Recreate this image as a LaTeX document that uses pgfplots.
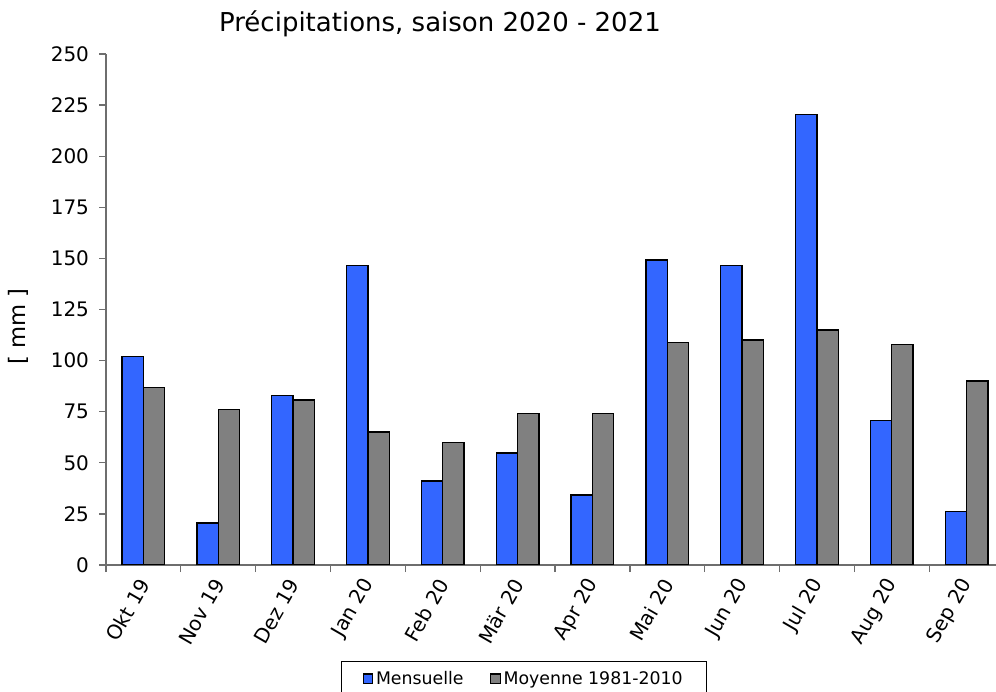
\documentclass[border=0pt]{standalone}
\usepackage{pgfplots}
\pgfplotsset{compat=1.18}
\usepackage{fontspec}
\setmainfont{DejaVu Sans}
\definecolor{mblue}{HTML}{3366FF}
\definecolor{mgray}{HTML}{808080}
\definecolor{axgray}{HTML}{6E6E6E}

\begin{document}
\begin{tikzpicture}
\useasboundingbox (-79.5pt,-95.25pt) rectangle (667.5pt,423.75pt);
\clip (-79.5pt,-95.25pt) rectangle (667.5pt,423.75pt);
\begin{axis}[
  at={(0,0)}, anchor=south west,
  scale only axis, width=673.5pt, height=383.25pt,
  ybar=0pt, bar width=16pt,
  xmin=-0.5, xmax=11.5, ymin=0, ymax=250,
  ytick={0,25,...,250},
  xtick={0,...,11},
  xticklabels={Okt 19,Nov 19,Dez 19,Jan 20,Feb 20,Mär 20,Apr 20,Mai 20,Jun 20,Jul 20,Aug 20,Sep 20},
  minor xtick={-0.5,0.5,...,11.5},
  axis x line*=bottom, axis y line*=left,
  axis line style={axgray, line width=1pt, -},
  tick style={axgray, line width=1pt},
  major x tick style={draw=none},
  tick align=outside,
  major tick length=5.25pt, minor tick length=5.25pt,
  /pgf/number format/assume math mode=true,
  tick label style={font=\fontsize{15}{18}\selectfont},
  yticklabel style={xshift=-4pt},
  xticklabel style={xshift=2.5pt, yshift=-3.8pt, rotate=60, anchor=east},
  ylabel={[ mm ]},
  ylabel style={at={(axis description cs:-0.098,0.466)}, anchor=center, font=\fontsize{17}{20}\selectfont},
  legend columns=2,
  legend style={at={(axis description cs:0.4655,-0.1885)}, anchor=north,
    draw=black, line width=0.8pt, font=\fontsize{13}{15.5}\selectfont,
    inner xsep=16pt, inner ysep=5pt,
    /tikz/every even column/.append style={column sep=18pt}},
  legend image code/.code={\draw[#1, line width=0.8pt] (0pt,-3.6pt) rectangle (7.2pt,3.6pt);},
]
\addplot[fill=mblue, draw=black, line width=1.1pt] coordinates {
(0,102) (1,20.5) (2,82.8) (3,146.4) (4,41.1) (5,54.9)
(6,34.2) (7,149.2) (8,146.4) (9,220.3) (10,70.6) (11,26.3)
};
\addlegendentry{Mensuelle}
\addplot[fill=mgray, draw=black, line width=1.1pt] coordinates {
(0,86.9) (1,76.2) (2,80.7) (3,65.1) (4,60) (5,74.2)
(6,74.2) (7,108.8) (8,110) (9,115) (10,108) (11,90)
};
\addlegendentry{Moyenne 1981-2010}
\end{axis}
\node[font=\fontsize{19.5}{23}\selectfont] at (250.5pt,405.75pt) {Précipitations, saison 2020 - 2021};
\end{tikzpicture}
\end{document}
